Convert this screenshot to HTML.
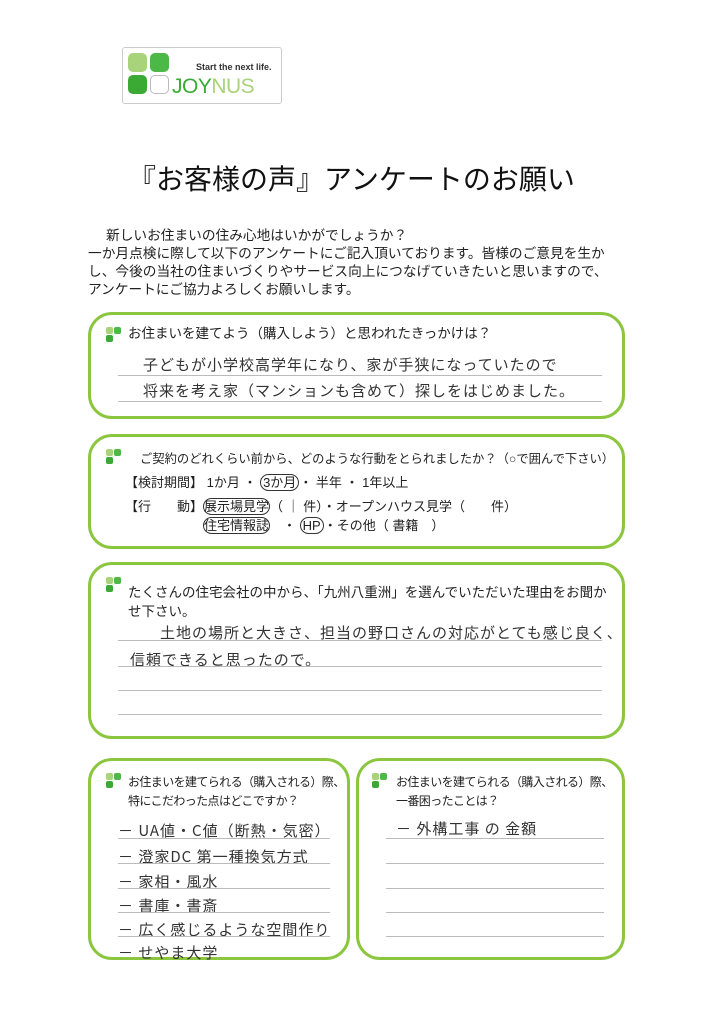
<!DOCTYPE html>
<html><head><meta charset="utf-8"><style>
body{margin:0;width:724px;height:1024px;background:#fff;position:relative;font-family:"Liberation Sans","Noto Sans CJK JP",sans-serif;color:#222;overflow:hidden}
.a{position:absolute;white-space:nowrap}
.box{position:absolute;border:3px solid #8cc63f;border-radius:24px;box-sizing:border-box}
.ic{position:absolute;width:16px;height:16px}
.ic i{position:absolute;width:7px;height:7px;border-radius:2px}
.q{font-size:13px}
.it{font-size:13.7px}
.hw{font-family:"WenQuanYi Zen Hei","Noto Sans CJK JP",sans-serif;font-size:15px;color:#333;letter-spacing:1px}
.ln{position:absolute;height:1px;background:#bbb}
.s{font-size:12px;letter-spacing:-0.6px}
</style></head><body>
<div class="a" style="left:122px;top:47px;width:158px;height:55px;border:1px solid #ccc;border-radius:3px"></div>
<div class="a" style="left:128px;top:53px;width:19px;height:19px;background:#a9d37a;border-radius:5px"></div>
<div class="a" style="left:150px;top:53px;width:19px;height:19px;background:#4cb848;border-radius:5px"></div>
<div class="a" style="left:128px;top:75px;width:19px;height:19px;background:#3aaa35;border-radius:5px"></div>
<div class="a" style="left:150px;top:75px;width:17px;height:17px;border:1px solid #bbb;border-radius:5px"></div>
<div class="a" style="left:196px;top:62px;font-size:9px;font-weight:bold;color:#333">Start the next life.</div>
<div class="a" style="left:172px;top:75px;font-size:21px;color:#3aaa35;letter-spacing:-0.5px">JOY<span style="color:#a9d37a">NUS</span></div>

<div class="a" style="left:128px;top:158px;font-size:28px;color:#111">『お客様の声』アンケートのお願い</div>
<div class="a it" style="left:106px;top:224px">新しいお住まいの住み心地はいかがでしょうか？</div>
<div class="a it" style="left:88px;top:242px">一か月点検に際して以下のアンケートにご記入頂いております。皆様のご意見を生か</div>
<div class="a it" style="left:88px;top:260px">し、今後の当社の住まいづくりやサービス向上につなげていきたいと思いますので、</div>
<div class="a it" style="left:88px;top:278px">アンケートにご協力よろしくお願いします。</div>

<div class="box" style="left:88px;top:312px;width:537px;height:107px"></div>
<div class="box" style="left:88px;top:434px;width:537px;height:115px"></div>
<div class="box" style="left:88px;top:562px;width:537px;height:177px"></div>
<div class="box" style="left:88px;top:758px;width:262px;height:202px"></div>
<div class="box" style="left:356px;top:758px;width:269px;height:202px"></div>

<div class="ic" style="left:106px;top:327px"><i style="left:0;top:0;background:#a9d37a"></i><i style="left:8px;top:0;background:#4cb848"></i><i style="left:0;top:8px;background:#3aaa35"></i></div>
<div class="ic" style="left:106px;top:449px"><i style="left:0;top:0;background:#a9d37a"></i><i style="left:8px;top:0;background:#4cb848"></i><i style="left:0;top:8px;background:#3aaa35"></i></div>
<div class="ic" style="left:106px;top:577px"><i style="left:0;top:0;background:#a9d37a"></i><i style="left:8px;top:0;background:#4cb848"></i><i style="left:0;top:8px;background:#3aaa35"></i></div>
<div class="ic" style="left:106px;top:773px"><i style="left:0;top:0;background:#a9d37a"></i><i style="left:8px;top:0;background:#4cb848"></i><i style="left:0;top:8px;background:#3aaa35"></i></div>
<div class="ic" style="left:372px;top:773px"><i style="left:0;top:0;background:#a9d37a"></i><i style="left:8px;top:0;background:#4cb848"></i><i style="left:0;top:8px;background:#3aaa35"></i></div>

<div class="a q" style="left:128px;top:322px;font-size:13.5px">お住まいを建てよう（購入しよう）と思われたきっかけは？</div>
<div class="a hw" style="left:143px;top:354px">子どもが小学校高学年になり、家が手狭になっていたので</div>
<div class="ln" style="left:118px;top:375px;width:484px"></div>
<div class="a hw" style="left:143px;top:380px">将来を考え家（マンションも含めて）探しをはじめました。</div>
<div class="ln" style="left:118px;top:401px;width:484px"></div>

<div class="a q" style="left:140px;top:449px;font-size:12.3px">ご契約のどれくらい前から、どのような行動をとられましたか？（○で囲んで下さい）</div>
<div class="a q" style="left:125px;top:472px">【検討期間】 1か月 ・ <span style="border:1px solid #333;border-radius:10px;padding:0 2px">3か月</span>・ 半年 ・ 1年以上</div>
<div class="a q" style="left:125px;top:496px">【行　　動】<span style="border:1px solid #333;border-radius:10px">展示場見学</span>（ ｜ 件）・オープンハウス見学（　　件）</div>
<div class="a q" style="left:203px;top:515px"><span style="border:1px solid #333;border-radius:10px">住宅情報誌</span>　・ <span style="border:1px solid #333;border-radius:10px;padding:0 2px">HP</span>・その他（ 書籍　）</div>

<div class="a q" style="left:128px;top:581px;font-size:13.5px">たくさんの住宅会社の中から、「九州八重洲」を選んでいただいた理由をお聞か</div>
<div class="a q" style="left:128px;top:600px;font-size:13.5px">せ下さい。</div>
<div class="a hw" style="left:160px;top:622px">土地の場所と大きさ、担当の野口さんの対応がとても感じ良く、</div>
<div class="ln" style="left:118px;top:640px;width:484px"></div>
<div class="a hw" style="left:130px;top:649px">信頼できると思ったので。</div>
<div class="ln" style="left:118px;top:666px;width:484px"></div>
<div class="ln" style="left:118px;top:690px;width:484px"></div>
<div class="ln" style="left:118px;top:714px;width:484px"></div>

<div class="a s" style="left:128px;top:773px">お住まいを建てられる（購入される）際、</div>
<div class="a s" style="left:128px;top:792px">特にこだわった点はどこですか？</div>
<div class="a hw" style="left:118px;top:820px">－ UA値・C値（断熱・気密）</div>
<div class="a hw" style="left:118px;top:846px">－ 澄家DC 第一種換気方式</div>
<div class="a hw" style="left:118px;top:871px">－ 家相・風水</div>
<div class="a hw" style="left:118px;top:895px">－ 書庫・書斎</div>
<div class="a hw" style="left:118px;top:919px">－ 広く感じるような空間作り</div>
<div class="a hw" style="left:118px;top:942px">－ せやま大学</div>
<div class="ln" style="left:118px;top:838px;width:212px"></div>
<div class="ln" style="left:118px;top:863px;width:212px"></div>
<div class="ln" style="left:118px;top:888px;width:212px"></div>
<div class="ln" style="left:118px;top:912px;width:212px"></div>
<div class="ln" style="left:118px;top:936px;width:212px"></div>

<div class="a s" style="left:396px;top:773px">お住まいを建てられる（購入される）際、</div>
<div class="a s" style="left:396px;top:792px">一番困ったことは？</div>
<div class="a hw" style="left:396px;top:818px">－ 外構工事 の 金額</div>
<div class="ln" style="left:386px;top:838px;width:218px"></div>
<div class="ln" style="left:386px;top:863px;width:218px"></div>
<div class="ln" style="left:386px;top:888px;width:218px"></div>
<div class="ln" style="left:386px;top:912px;width:218px"></div>
<div class="ln" style="left:386px;top:936px;width:218px"></div>
</body></html>
